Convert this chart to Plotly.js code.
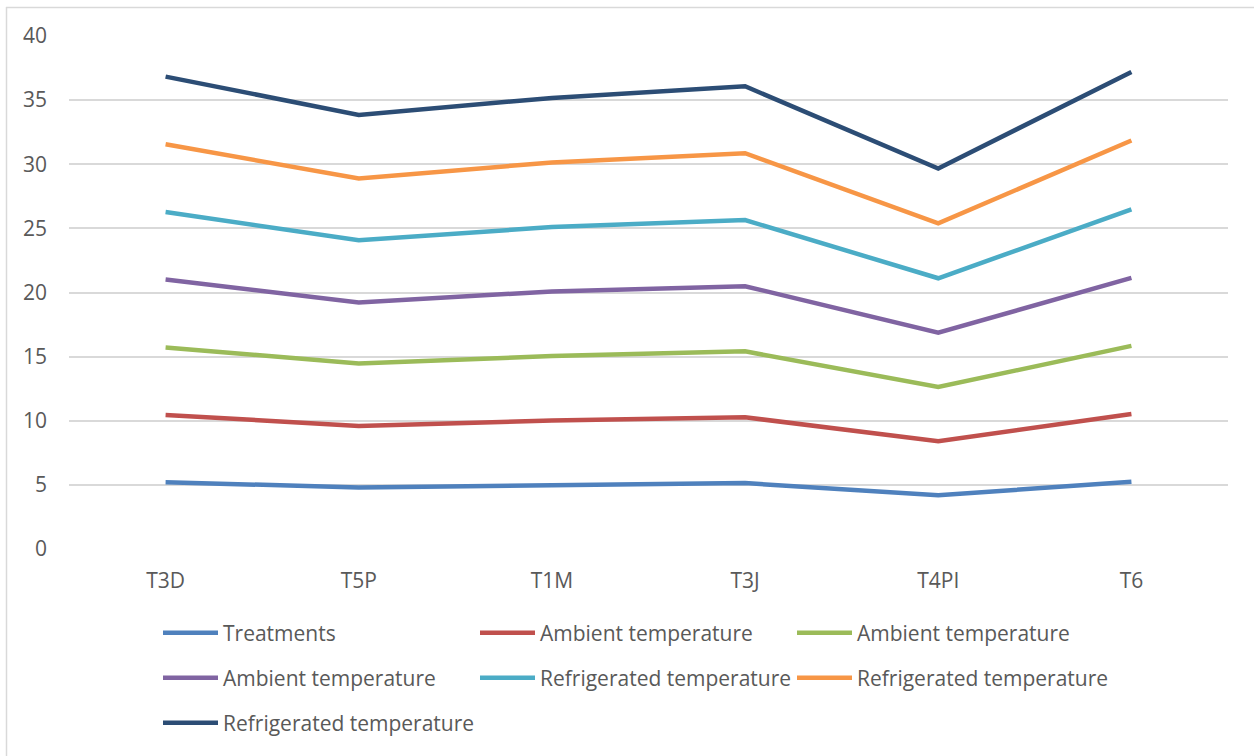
<!DOCTYPE html>
<html>
<head>
<meta charset="utf-8">
<script src="https://cdn.plot.ly/plotly-3.0.1.min.js"></script>
<style>html,body{margin:0;padding:0;background:#fff;}#chart{width:1254px;height:756px;}</style>
</head>
<body>
<div id="chart"></div>
<script>
// Categories (x axis)
var categories = ["T3D", "T5P", "T1M", "T3J", "T4PI", "T6"];

// Series names (as in legend)
var seriesNames = [
  "Treatments",
  "Ambient temperature",
  "Ambient temperature",
  "Ambient temperature",
  "Refrigerated temperature",
  "Refrigerated temperature",
  "Refrigerated temperature"
];

// Series values (stacked line chart: each series adds on top of the previous)
var s1 = [5.21, 4.80, 4.98, 5.14, 4.20, 5.24];
var s2 = [5.24, 4.80, 5.03, 5.13, 4.20, 5.29];
var s3 = [5.27, 4.87, 5.03, 5.14, 4.23, 5.31];
var s4 = [5.29, 4.75, 5.04, 5.08, 4.23, 5.30];
var s5 = [5.26, 4.85, 5.02, 5.16, 4.25, 5.34];
var s6 = [5.29, 4.82, 5.04, 5.21, 4.28, 5.37];
var s7 = [5.27, 4.96, 5.03, 5.22, 4.28, 5.35];

// Y tick values
var yTicks = [0, 5, 10, 15, 20, 25, 30, 35, 40];

var seriesValues = [s1, s2, s3, s4, s5, s6, s7];
var colors = ["#4f81bd", "#c0504d", "#9bbb59", "#8064a2", "#4bacc6", "#f79646", "#2c4d75"];
var legendIds = ["legend", "legend", "legend", "legend2", "legend2", "legend2", "legend3"];

var traces = seriesValues.map(function (vals, i) {
  return {
    x: categories,
    y: vals,
    name: seriesNames[i],
    type: "scatter",
    mode: "lines",
    stackgroup: "one",
    fill: "none",
    legendgroup: "g" + i,
    line: { color: colors[i], width: 4.5 },
    legend: legendIds[i],
    hoverinfo: "y+name"
  };
});

var W = 1254, H = 756;
var mL = 69, mR = 26, mT = 36, mB = 207;
var pw = W - mL - mR, ph = H - mT - mB;
function px2x(p) { return (p - mL) / pw; }
function py2y(p) { return (H - mB - p) / ph; }

var FONT = "Open Sans, sans-serif";
var legendFont = { family: FONT, size: 21, color: "#595959" };
function mkLegend(rowY) {
  return {
    orientation: "h",
    traceorder: "normal",
    x: px2x(158),
    xanchor: "left",
    y: py2y(rowY),
    yanchor: "middle",
    font: legendFont,
    entrywidth: 247,
    entrywidthmode: "pixels",
    itemwidth: 55,
    bgcolor: "rgba(0,0,0,0)",
    borderwidth: 0,
    itemclick: false,
    itemdoubleclick: false
  };
}

var layout = {
  width: W,
  height: H,
  margin: { l: mL, r: mR, t: mT, b: mB, pad: 0 },
  paper_bgcolor: "#ffffff",
  plot_bgcolor: "#ffffff",
  font: { family: FONT, color: "#595959" },
  showlegend: true,
  xaxis: {
    type: "category",
    range: [-0.5, 5.5],
    showgrid: false,
    zeroline: false,
    showline: false,
    ticks: "",
    tickfont: { family: FONT, size: 21, color: "#595959" },
    ticklabelstandoff: 17,
    fixedrange: true
  },
  yaxis: {
    range: [0, 40],
    tickvals: yTicks,
    ticktext: yTicks.map(String),
    showgrid: true,
    gridcolor: "#d9d9d9",
    gridwidth: 1.5,
    zeroline: false,
    showline: false,
    ticks: "",
    tickfont: { family: FONT, size: 21, color: "#595959" },
    ticklabelstandoff: 21,
    fixedrange: true
  },
  legend: mkLegend(633),
  legend2: mkLegend(678),
  legend3: mkLegend(723),
  shapes: [
    {
      type: "line", xref: "paper", yref: "paper",
      x0: px2x(6), x1: px2x(1260), y0: py2y(7.5), y1: py2y(7.5),
      line: { color: "#d9d9d9", width: 1.5 }, layer: "below"
    },
    {
      type: "line", xref: "paper", yref: "paper",
      x0: px2x(6.5), x1: px2x(6.5), y0: py2y(7), y1: py2y(770),
      line: { color: "#d9d9d9", width: 1.5 }, layer: "below"
    }
  ]
};

Plotly.newPlot("chart", traces, layout, { displayModeBar: false });
</script>
</body>
</html>
